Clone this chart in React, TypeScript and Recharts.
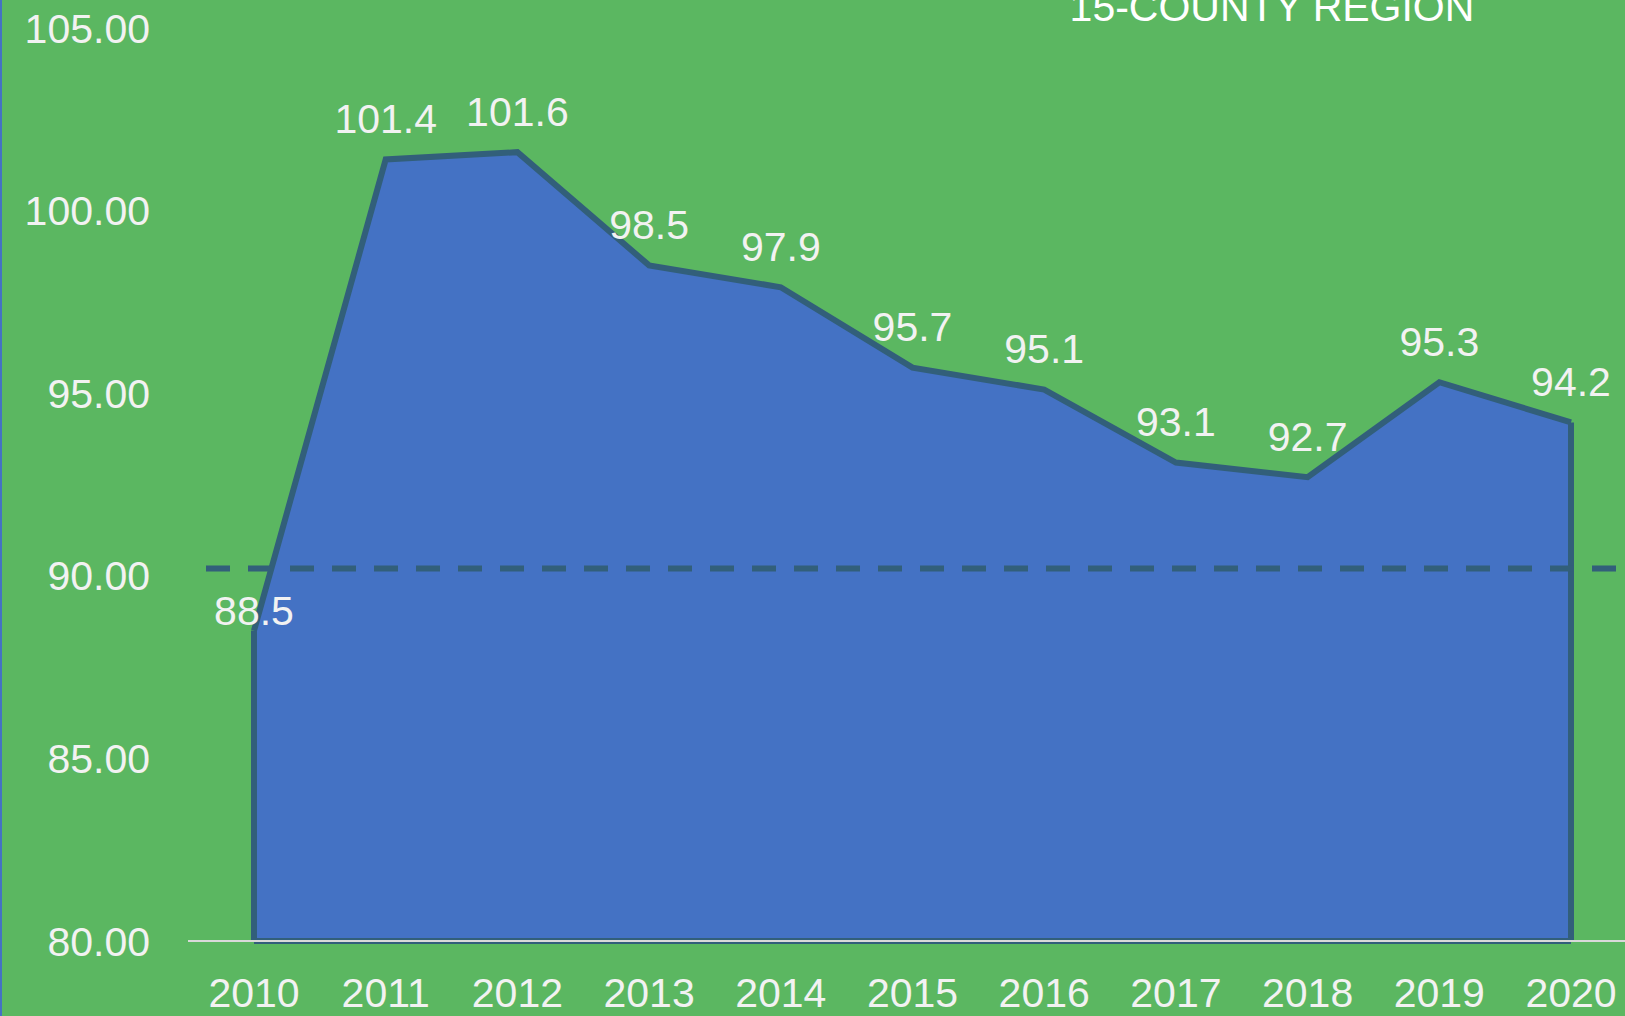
import React from 'react'
import {
  AreaChart,
  Area,
  XAxis,
  YAxis,
  ReferenceLine,
  LabelList
} from 'recharts'

const years = ['2010', '2011', '2012', '2013', '2014', '2015', '2016', '2017', '2018', '2019', '2020']
const values = [88.5, 101.4, 101.6, 98.5, 97.9, 95.7, 95.1, 93.1, 92.7, 95.3, 94.2]
const yTicks = [80, 85, 90, 95, 100, 105]
const benchmark = 90.2
const title = '15-COUNTY REGION'

const data = years.map((year, i) => ({ year, value: values[i] }))

const FONT = '"Liberation Sans", Arial, sans-serif'
const TEXT = '#F2F2F2'
const EDGE = '#325F7A'

const ValueLabel = (props: any) => {
  const { x, y, value, index } = props
  // first label sits closer to its point, like in the original
  const off = index === 0 ? 20 : 41
  return (
    <text
      x={x}
      y={y - off}
      dy="0.35em"
      textAnchor="middle"
      fill={TEXT}
      fontSize={41}
      fontFamily={FONT}
    >
      {Number(value).toFixed(1)}
    </text>
  )
}

const App: React.FC = () => {
  const first = years[0]
  const last = years[years.length - 1]
  const base = yTicks[0]

  return (
    <div
      style={{
        position: 'fixed',
        top: 0,
        left: 0,
        width: 1625,
        height: 1016,
        background: '#5BB761',
        overflow: 'hidden'
      }}
    >
      <div style={{ position: 'absolute', left: 0, top: 0, width: 2, height: 1016, background: '#4472C4' }} />
      <AreaChart
        width={1625}
        height={1016}
        data={data}
        margin={{ top: 28, right: 0, left: 0, bottom: 0 }}
      >
        <YAxis
          domain={[80, 105]}
          ticks={yTicks}
          width={188}
          axisLine={false}
          tickLine={false}
          tickSize={0}
          tickMargin={38}
          tickFormatter={(v: number) => v.toFixed(2)}
          tick={{ fill: TEXT, fontSize: 41, fontFamily: FONT }}
        />
        <Area
          type="linear"
          dataKey="value"
          fill="#4472C4"
          fillOpacity={1}
          stroke={EDGE}
          strokeWidth={6}
          baseValue={base}
          isAnimationActive={false}
          dot={false}
          activeDot={false}
        >
          <LabelList dataKey="value" content={ValueLabel} />
        </Area>
        <ReferenceLine
          segment={[{ x: first, y: base }, { x: first, y: values[0] }]}
          stroke={EDGE}
          strokeWidth={6}
        />
        <ReferenceLine
          segment={[{ x: last, y: base }, { x: last, y: values[values.length - 1] }]}
          stroke={EDGE}
          strokeWidth={6}
        />
        <ReferenceLine
          segment={[{ x: first, y: base }, { x: last, y: base }]}
          stroke={EDGE}
          strokeWidth={6}
        />
        <ReferenceLine
          y={benchmark}
          stroke={EDGE}
          strokeWidth={6}
          strokeDasharray="24 18"
          strokeDashoffset={24}
        />
        <XAxis
          dataKey="year"
          height={75}
          padding={{ left: 66, right: 54 }}
          axisLine={{ stroke: '#D9D9D9', strokeWidth: 2 }}
          tickLine={false}
          tickSize={0}
          tickMargin={37}
          interval={0}
          tick={{ fill: TEXT, fontSize: 41, fontFamily: FONT }}
        />
      </AreaChart>
      <svg
        width={1625}
        height={60}
        style={{ position: 'absolute', left: 0, top: 0, pointerEvents: 'none' }}
      >
        <text x={1272} y={21} textAnchor="middle" fill="#FFFFFF" fontSize={41} fontFamily={FONT}>
          {title}
        </text>
      </svg>
    </div>
  )
}

export default App
